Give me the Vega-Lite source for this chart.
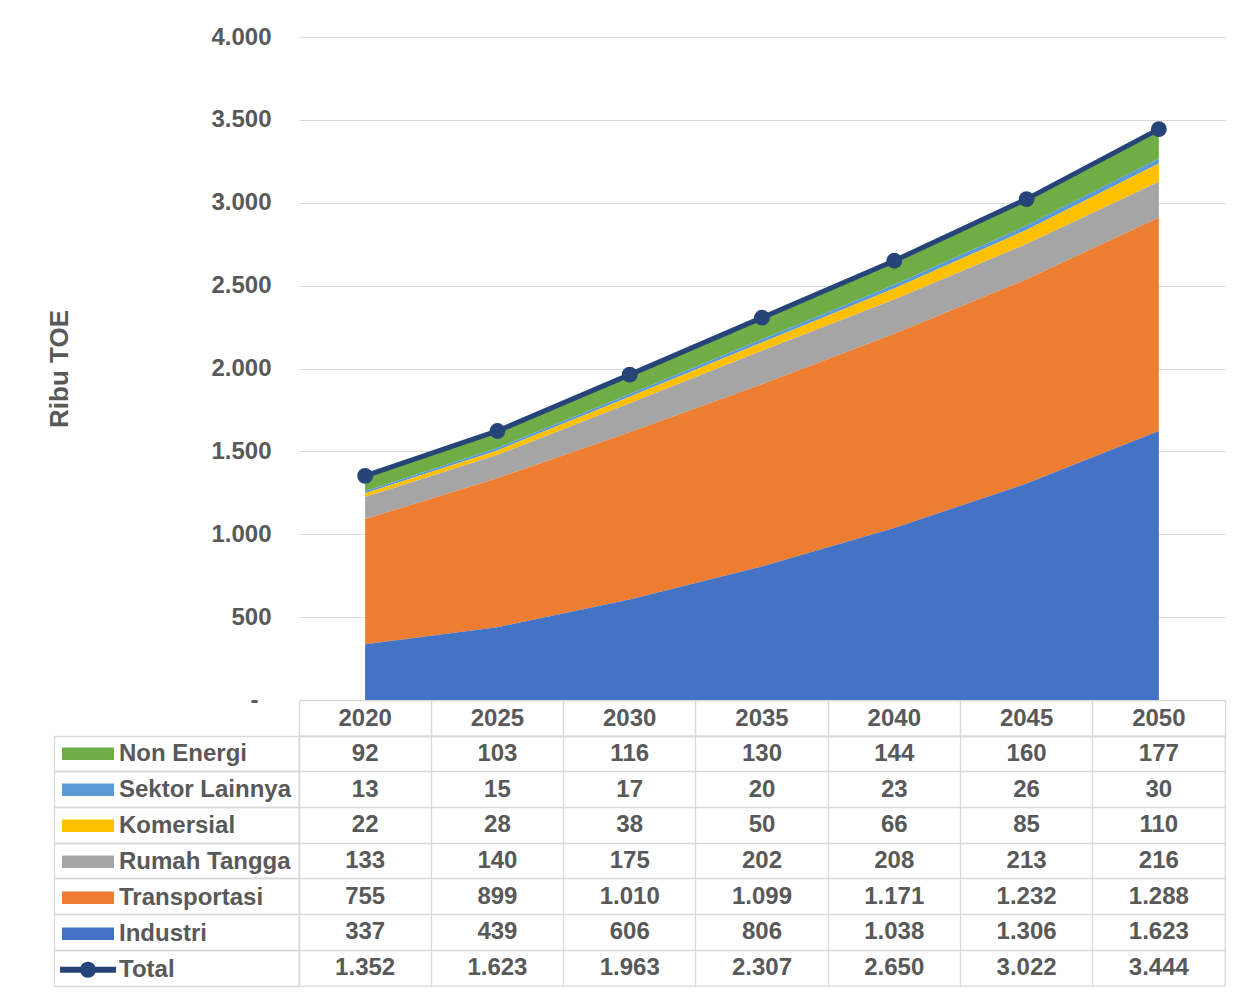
{
  "$schema": "https://vega.github.io/schema/vega-lite/v6.json",
  "padding": {"left": 46, "top": 25, "right": 0, "bottom": 0},
  "background": "white",
  "spacing": 36,
  "bounds": "flush",
  "config": {
    "font": "Liberation Sans",
    "locale": {"number": {"decimal": ",", "thousands": ".", "grouping": [3], "currency": ["", ""]}},
    "axis": {"labelFont": "Liberation Sans", "titleFont": "Liberation Sans"},
    "legend": {"labelFont": "Liberation Sans"}
  },
  "datasets": {
    "energy": [
      {"series": "Non Energi", "year": "2020", "value": 92},
      {"series": "Non Energi", "year": "2025", "value": 103},
      {"series": "Non Energi", "year": "2030", "value": 116},
      {"series": "Non Energi", "year": "2035", "value": 130},
      {"series": "Non Energi", "year": "2040", "value": 144},
      {"series": "Non Energi", "year": "2045", "value": 160},
      {"series": "Non Energi", "year": "2050", "value": 177},
      {"series": "Sektor Lainnya", "year": "2020", "value": 13},
      {"series": "Sektor Lainnya", "year": "2025", "value": 15},
      {"series": "Sektor Lainnya", "year": "2030", "value": 17},
      {"series": "Sektor Lainnya", "year": "2035", "value": 20},
      {"series": "Sektor Lainnya", "year": "2040", "value": 23},
      {"series": "Sektor Lainnya", "year": "2045", "value": 26},
      {"series": "Sektor Lainnya", "year": "2050", "value": 30},
      {"series": "Komersial", "year": "2020", "value": 22},
      {"series": "Komersial", "year": "2025", "value": 28},
      {"series": "Komersial", "year": "2030", "value": 38},
      {"series": "Komersial", "year": "2035", "value": 50},
      {"series": "Komersial", "year": "2040", "value": 66},
      {"series": "Komersial", "year": "2045", "value": 85},
      {"series": "Komersial", "year": "2050", "value": 110},
      {"series": "Rumah Tangga", "year": "2020", "value": 133},
      {"series": "Rumah Tangga", "year": "2025", "value": 140},
      {"series": "Rumah Tangga", "year": "2030", "value": 175},
      {"series": "Rumah Tangga", "year": "2035", "value": 202},
      {"series": "Rumah Tangga", "year": "2040", "value": 208},
      {"series": "Rumah Tangga", "year": "2045", "value": 213},
      {"series": "Rumah Tangga", "year": "2050", "value": 216},
      {"series": "Transportasi", "year": "2020", "value": 755},
      {"series": "Transportasi", "year": "2025", "value": 899},
      {"series": "Transportasi", "year": "2030", "value": 1010},
      {"series": "Transportasi", "year": "2035", "value": 1099},
      {"series": "Transportasi", "year": "2040", "value": 1171},
      {"series": "Transportasi", "year": "2045", "value": 1232},
      {"series": "Transportasi", "year": "2050", "value": 1288},
      {"series": "Industri", "year": "2020", "value": 337},
      {"series": "Industri", "year": "2025", "value": 439},
      {"series": "Industri", "year": "2030", "value": 606},
      {"series": "Industri", "year": "2035", "value": 806},
      {"series": "Industri", "year": "2040", "value": 1038},
      {"series": "Industri", "year": "2045", "value": 1306},
      {"series": "Industri", "year": "2050", "value": 1623},
      {"series": "Total", "year": "2020", "value": 1352},
      {"series": "Total", "year": "2025", "value": 1623},
      {"series": "Total", "year": "2030", "value": 1963},
      {"series": "Total", "year": "2035", "value": 2307},
      {"series": "Total", "year": "2040", "value": 2650},
      {"series": "Total", "year": "2045", "value": 3022},
      {"series": "Total", "year": "2050", "value": 3444}
    ]
  },
  "resolve": {"scale": {"color": "independent", "shape": "independent"}},
  "vconcat": [
    {
      "width": 926,
      "height": 663,
      "view": {"stroke": null},
      "data": {"name": "energy"},
      "encoding": {
        "x": {
          "field": "year", "type": "ordinal",
          "scale": {"type": "point", "padding": 0.5},
          "axis": {"title": null, "labels": false, "ticks": false, "domain": true, "domainColor": "#d9d9d9", "domainWidth": 1.3, "grid": false}
        }
      },
      "layer": [
        {
          "transform": [
            {"filter": "datum.series !== 'Total'"},
            {"calculate": "indexof(['Industri', 'Transportasi', 'Rumah Tangga', 'Komersial', 'Sektor Lainnya', 'Non Energi'], datum.series)", "as": "stackOrder"}
          ],
          "mark": {"type": "area", "opacity": 1},
          "encoding": {
            "y": {
              "field": "value", "type": "quantitative", "stack": "zero", "title": "Ribu TOE",
              "scale": {"domain": [0, 4000], "nice": false},
              "axis": {
                "values": [0, 500, 1000, 1500, 2000, 2500, 3000, 3500, 4000],
                "grid": true, "gridColor": "#d9d9d9", "gridWidth": 1,
                "domain": false, "ticks": false,
                "labelPadding": {"condition": {"test": "datum.value === 0", "value": 41}, "value": 28},
                "labelFontSize": 24, "labelFontWeight": "bold", "labelColor": "#595959",
                "labelExpr": "datum.value === 0 ? '-' : format(datum.value, ',')",
                "titleFontSize": 26, "titleFontWeight": "bold", "titleColor": "#595959", "titlePadding": 138
              }
            },
            "order": {"field": "stackOrder", "type": "quantitative", "sort": "ascending"},
            "color": {
              "field": "series", "type": "nominal",
              "scale": {
                "domain": ["Non Energi", "Sektor Lainnya", "Komersial", "Rumah Tangga", "Transportasi", "Industri"],
                "range": ["#70ad47", "#5b9bd5", "#ffc000", "#a5a5a5", "#ed7d31", "#4472c4"]
              },
              "legend": null
            }
          }
        },
        {
          "transform": [{"filter": "datum.series === 'Total'"}],
          "mark": {"type": "line", "color": "#264478", "strokeWidth": 5, "point": {"filled": true, "size": 250, "color": "#264478"}},
          "encoding": {
            "y": {"field": "value", "type": "quantitative", "title": "Ribu TOE"}
          }
        }
      ]
    },
    {
      "width": 926,
      "height": 250,
      "view": {"stroke": "#d9d9d9", "strokeWidth": 1.3},
      "data": {"name": "energy"},
      "resolve": {"axis": {"x": "independent", "y": "independent"}},
      "layer": [
        {
          "mark": {"type": "text", "fontSize": 24, "fontWeight": "bold", "color": "#595959", "baseline": "middle", "align": "center"},
          "encoding": {
            "x": {
              "field": "year", "type": "ordinal",
              "scale": {"type": "band", "paddingInner": 0, "paddingOuter": 0},
              "axis": {
                "orient": "top", "title": null, "bandPosition": 0,
                "tickSize": 36, "tickColor": "#d9d9d9", "tickWidth": 1.3,
                "labelOffset": 0, "labelPadding": -18, "labelBaseline": "middle", "labelAngle": 0,
                "labelFontSize": 24, "labelFontWeight": "bold", "labelColor": "#595959",
                "domainColor": "#d9d9d9", "domainWidth": 1.3,
                "grid": true, "gridColor": "#d9d9d9", "gridWidth": 1.3
              }
            },
            "y": {
              "field": "series", "type": "nominal",
              "sort": ["Non Energi", "Sektor Lainnya", "Komersial", "Rumah Tangga", "Transportasi", "Industri", "Total"],
              "scale": {"type": "band", "paddingInner": 0, "paddingOuter": 0},
              "axis": {
                "title": null, "bandPosition": 0, "labels": false,
                "tickSize": 245, "tickColor": "#d9d9d9", "tickWidth": 1.3,
                "domainColor": "#d9d9d9", "domainWidth": 1.3,
                "grid": true, "gridColor": "#d9d9d9", "gridWidth": 1.3
              }
            },
            "text": {"field": "value", "type": "quantitative", "format": ",.0f"}
          }
        },
        {
          "mark": {"type": "point", "filled": true, "size": 0},
          "encoding": {
            "x": {
              "field": "year", "type": "ordinal",
              "axis": {"orient": "top", "title": null, "bandPosition": 1, "tickSize": 36, "tickColor": "#d9d9d9", "tickWidth": 1.3, "labels": false, "domain": false, "grid": false}
            },
            "y": {
              "field": "series", "type": "nominal",
              "sort": ["Non Energi", "Sektor Lainnya", "Komersial", "Rumah Tangga", "Transportasi", "Industri", "Total"],
              "axis": {"orient": "left", "title": null, "offset": 245, "bandPosition": 1, "tickSize": -245, "tickColor": "#d9d9d9", "tickWidth": 1.3, "labels": false, "domain": true, "domainColor": "#d9d9d9", "domainWidth": 1.3, "grid": false}
            },
            "color": {
              "field": "series", "type": "nominal",
              "scale": {
                "domain": ["Non Energi", "Sektor Lainnya", "Komersial", "Rumah Tangga", "Transportasi", "Industri", "Total"],
                "range": ["#70ad47", "#5b9bd5", "#ffc000", "#a5a5a5", "#ed7d31", "#4472c4", "#264478"]
              },
              "legend": {
                "orient": "none", "legendX": -239, "legendY": 0, "direction": "vertical", "columns": 1,
                "title": null, "symbolSize": 3136, "symbolStrokeWidth": 0, "symbolOpacity": 1,
                "labelFontSize": 24, "labelFontWeight": "bold", "labelColor": "#595959", "labelLimit": 300, "labelOffset": 3,
                "rowPadding": 0, "clipHeight": 35.71, "padding": 0
              }
            },
            "shape": {
              "field": "series", "type": "nominal",
              "scale": {
                "domain": ["Non Energi", "Sektor Lainnya", "Komersial", "Rumah Tangga", "Transportasi", "Industri", "Total"],
                "range": [
                  "M-0.929,-0.223H0.929V0.223H-0.929Z",
                  "M-0.929,-0.223H0.929V0.223H-0.929Z",
                  "M-0.929,-0.223H0.929V0.223H-0.929Z",
                  "M-0.929,-0.223H0.929V0.223H-0.929Z",
                  "M-0.929,-0.223H0.929V0.223H-0.929Z",
                  "M-0.929,-0.223H0.929V0.223H-0.929Z",
                  "M-1,-0.107H1V0.107H-1ZM0.286,0A0.286,0.286,0,1,1,-0.286,0A0.286,0.286,0,1,1,0.286,0Z"
                ]
              },
              "legend": {
                "orient": "none", "legendX": -239, "legendY": 0, "direction": "vertical", "columns": 1,
                "title": null, "symbolSize": 3136, "symbolStrokeWidth": 0, "symbolOpacity": 1,
                "labelFontSize": 24, "labelFontWeight": "bold", "labelColor": "#595959", "labelLimit": 300, "labelOffset": 3,
                "rowPadding": 0, "clipHeight": 35.71, "padding": 0
              }
            }
          }
        }
      ]
    }
  ]
}
